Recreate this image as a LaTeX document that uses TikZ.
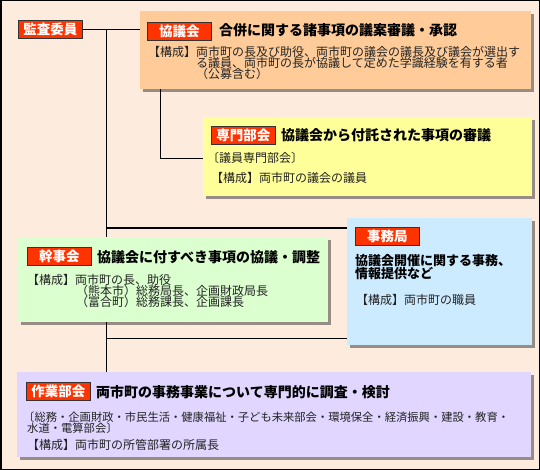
\documentclass[tikz,border=0pt]{standalone}
\usepackage{fontspec}
\setmainfont{Noto Sans CJK JP}
\usepackage{xcolor}
\usepackage{tikz}
\usetikzlibrary{shadows}
\definecolor{bg}{HTML}{FDEBDD}
\definecolor{lblred}{HTML}{FF3300}
\definecolor{lbldraw}{HTML}{333333}
\definecolor{kyogicol}{HTML}{FFCC99}
\definecolor{senmoncol}{HTML}{FFFF99}
\definecolor{jimucol}{HTML}{CCEBFF}
\definecolor{kanjicol}{HTML}{DBFFCF}
\definecolor{sagyocol}{HTML}{E0D6FF}
\definecolor{txtgray}{HTML}{222222}
\pgfdeclarelayer{back}
\pgfdeclarelayer{wires}
\pgfsetlayers{back,wires,main}

\begin{document}
\begin{tikzpicture}[x=1pt,y=-1pt,
  box/.style={anchor=north west,inner sep=0,fill=#1,drop shadow={shadow xshift=3pt,shadow yshift=-3pt,fill=black,opacity=.4}},
  lbl/.style={anchor=north west,draw=lbldraw,fill=lblred,text=white,line width=.8pt,inner sep=0,minimum width=64pt,minimum height=18pt,font=\fontsize{13.5}{14}\selectfont\bfseries},
  ttl/.style={anchor=west,inner sep=0,font=\fontsize{14}{16}\selectfont\bfseries},
  txt/.style={anchor=west,inner sep=0,text=txtgray,font=\fontsize{12}{13}\selectfont}]
  \useasboundingbox (0,0) rectangle (540,470);
  \begin{pgfonlayer}{back}
    \draw[line width=1.5pt,fill=bg] (0.75,0.75) rectangle (539.25,469.25);
  \end{pgfonlayer}

  \node[lbl] (kansa) at (18,20) {監査委員};

  \node[box=kyogicol,minimum width=391pt,minimum height=78pt] (kyogikai) at (140,11) {};
  \node[lbl] (kyogilbl) at (147,22) {協議会};
  \node[ttl] (kyogittl) at (219,30) {合併に関する諸事項の議案審議・承認};
  \node[txt] (kyogi1) at (148,52) {【構成】両市町の長及び助役、両市町の議会の議長及び議会が選出す};
  \node[txt] (kyogi2) at (196,63) {る議員、両市町の長が協議して定めた学識経験を有する者};
  \node[txt] (kyogi3) at (196,74) {（公募含む）};

  \node[box=senmoncol,minimum width=329pt,minimum height=79pt] (senmon) at (203,117) {};
  \node[lbl] (senmonlbl) at (211,126) {専門部会};
  \node[ttl] (senmonttl) at (281,135) {協議会から付託された事項の審議};
  \node[txt] (senmon1) at (207,158) {〔議員専門部会〕};
  \node[txt] (senmon2) at (211,178) {【構成】両市町の議会の議員};

  \node[box=jimucol,minimum width=185pt,minimum height=127pt] (jimu) at (347,218) {};
  \node[lbl] (jimulbl) at (355,227) {事務局};
  \node[ttl,font=\fontsize{13}{14}\selectfont\bfseries] (jimuttl1) at (355,261) {協議会開催に関する事務、};
  \node[ttl,font=\fontsize{13}{14}\selectfont\bfseries] (jimuttl2) at (355,274) {情報提供など};
  \node[txt] (jimu1) at (356,300) {【構成】両市町の職員};

  \node[box=kanjicol,minimum width=310pt,minimum height=85pt] (kanji) at (18,237) {};
  \node[lbl] (kanjilbl) at (27,247) {幹事会};
  \node[ttl] (kanjittl) at (97,257) {協議会に付すべき事項の協議・調整};
  \node[txt] (kanji1) at (27,280) {【構成】両市町の長、助役};
  \node[txt] (kanji2) at (76,291) {（熊本市）総務局長、企画財政局長};
  \node[txt] (kanji3) at (76,302) {（富合町）総務課長、企画課長};

  \node[box=sagyocol,minimum width=514pt,minimum height=85pt] (sagyo) at (17,372) {};
  \node[lbl] (sagyolbl) at (26,382) {作業部会};
  \node[ttl] (sagyottl) at (96,392) {両市町の事務事業について専門的に調査・検討};
  \node[txt,font=\fontsize{11.3}{12}\selectfont] (sagyo1) at (23,417) {〔総務・企画財政・市民生活・健康福祉・子ども未来部会・環境保全・経済振興・建設・教育・};
  \node[txt,font=\fontsize{11.3}{12}\selectfont] (sagyo2) at (27,428) {水道・電算部会〕};
  \node[txt] (sagyo3) at (27,445) {【構成】両市町の所管部署の所属長};

  \begin{pgfonlayer}{wires}
    \coordinate (trunk) at (106,29);
    \coordinate (s1) at (160,159);
    \coordinate (b1) at (106,228);
    \coordinate (b2) at (106,338);
    \draw[line width=1pt] (kansa.east) -- (kansa.east -| kyogikai.west);
    \draw[line width=1pt] (trunk) -- (trunk |- sagyo.north);
    \draw[line width=1pt] (s1 |- kyogikai.south) -- (s1) -- (s1 -| senmon.west);
    \draw[line width=1pt] (b1) -- (b1 -| jimu.west);
    \draw[line width=1pt] (b2) -- (b2 -| jimu.west);
  \end{pgfonlayer}
\end{tikzpicture}
\end{document}
